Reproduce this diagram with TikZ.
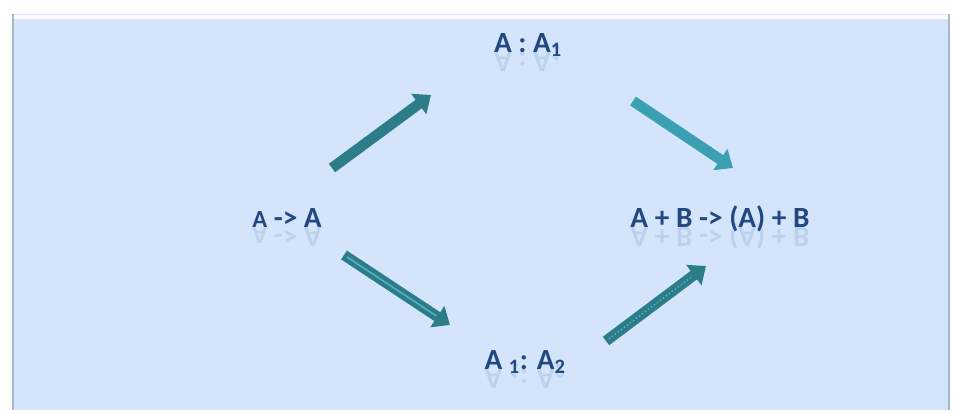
\documentclass[tikz,border=0pt]{standalone}
\usepackage{fontspec}
\setmainfont{Carlito}
\usepackage{tikz}
\usetikzlibrary{arrows.meta}
\usetikzlibrary{positioning}

\definecolor{panelblue}{RGB}{212,229,251}
\definecolor{paneledge}{RGB}{168,184,206}
\definecolor{textblue}{RGB}{34,72,130}
\definecolor{tealdark}{RGB}{44,124,137}
\definecolor{teallight}{RGB}{58,160,178}
\definecolor{tealline}{RGB}{86,184,204}

\tikzset{
  reaction/.style={font=\bfseries\fontsize{25}{30}\selectfont, text=textblue, inner sep=0pt, anchor=base},
  mirror/.style={reaction, yscale=-1, transform shape, opacity=0.12},
  fatarrow/.style={line width=9pt, draw=tealdark, -{Triangle[width=21pt,length=13pt]}}
}

\begin{document}
\begin{tikzpicture}[x=0.03cm, y=-0.03cm]
    \useasboundingbox (0,0) rectangle (956,412);

    % panel
    \fill[panelblue] (12,14) rectangle (950,410);
    \draw[paneledge, line width=1.5pt] (13,14) -- (13,410);
    \draw[paneledge, line width=1.5pt] (949,14) -- (949,410);
    \draw[white, line width=4pt] (14,17) -- (948,17);

    % reactions
    \node[reaction] (start) at (287,227) {{\fontsize{21}{24}\selectfont A} -> A};
    \node[reaction] (top) at (528,52) {A : A\textsubscript{1}};
    \node[reaction] (bottom) at (525,369) {A \textsubscript{1}: A\textsubscript{2}};
    \node[reaction] (product) at (720,227) {A + B -> (A) + B};

    \node[mirror] (start-m) at (start.base) {{\fontsize{21}{24}\selectfont A} -> A};
    \node[mirror] (top-m) at (top.base) {A : A\textsubscript{1}};
    \node[mirror] (bottom-m) at (bottom.base) {A \textsubscript{1}: A\textsubscript{2}};
    \node[mirror] (product-m) at (product.base) {A + B -> (A) + B};

    % arrows
    \coordinate (s1) at (332,168);
    \coordinate (e1) at (431,95);
    \coordinate (s2) at (633,101);
    \coordinate (e2) at (733,168);
    \coordinate (s3) at (344,255);
    \coordinate (e3) at (450,325);
    \coordinate (s4) at (606,341);
    \coordinate (e4) at (706,266);

    \draw[fatarrow] (s1) -- (e1);
    \draw[fatarrow, draw=teallight] (s2) -- (e2);
    \draw[fatarrow] (s3) -- (e3);
    \draw[tealline, line width=1.2pt, shorten <=3pt, shorten >=14pt] (s3) -- (e3);
    \draw[fatarrow] (s4) -- (e4);
    \draw[tealline, line width=1.2pt, dotted, shorten <=3pt, shorten >=14pt] (s4) -- (e4);
\end{tikzpicture}
\end{document}
